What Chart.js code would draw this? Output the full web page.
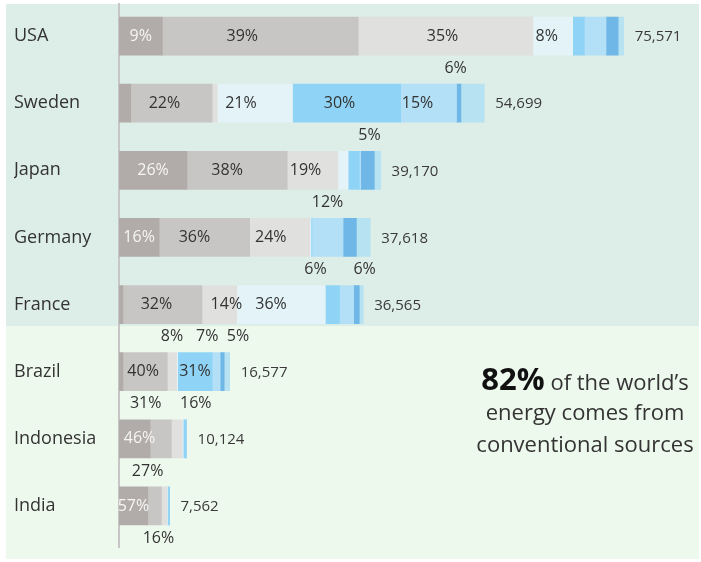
<!DOCTYPE html>
<html>
<head>
<meta charset="utf-8">
<script src="https://cdn.jsdelivr.net/npm/chart.js@4.4.1/dist/chart.umd.min.js"></script>
<style>
html, body { margin: 0; padding: 0; background: #fff; }
#wrap { width: 701px; height: 562px; }
</style>
</head>
<body>
<div id="wrap"><canvas id="energyChart"></canvas></div>
<script>
// ==========================================
// per-capita energy use and mix by source
// ==========================================

const countries = ["USA", "Sweden", "Japan", "Germany", "France", "Brazil", "Indonesia", "India"];
const totals = [75571, 54699, 39170, 37618, 36565, 16577, 10124, 7562];

// share of each source, percent of the country's total
const sources = ["Coal", "Oil", "Gas", "Nuclear", "Hydro", "Biofuels", "Wind", "Other"];
const coal    = [8.6,  3.2, 26.0, 16.0,  1.6,  3.6, 46.0, 57.0];
const oil     = [38.8, 22.3, 38.3, 36.0, 32.4, 40.0, 31.4, 27.0];
const gas     = [34.6,  1.4, 19.4, 24.0, 14.2,  8.4, 16.2, 11.0];
const nuclear = [7.9, 20.6,  3.9,  0.4, 36.3,  1.0,  1.4,  1.0];
const hydro   = [2.3, 29.6,  4.3,  0.4,  5.8, 31.2,  4.0,  4.0];
const bio     = [4.3, 15.3,  0.5, 12.4,  5.8,  7.2,  0.5,  0.0];
const wind    = [2.4,  1.2,  5.2,  5.3,  2.3,  3.6,  0.0,  0.0];
const other   = [1.1,  6.4,  2.4,  5.5,  1.6,  5.0,  0.5,  0.0];

const shares = [coal, oil, gas, nuclear, hydro, bio, wind, other];

// which segments get a percent label (index into sources, or [from, to] for a sum)
const insideLabels = [[0, 1, 2, 3], [1, 3, 4, 5], [0, 1, 2], [0, 1, 2], [1, 2, 3], [1, 4], [0], [0]];
const aboveLabels  = [[], [7], [6], [5], [4, 5], [2, 5, 7], [1, 2], [1]];
const belowLabels  = [[], [], [], [], [], [], [], [[2, 7]]];

const colors = ["#b1aca9", "#c8c6c4", "#e0e0de", "#e3f3f7", "#8fd4f6", "#b3e0f7", "#6fb7e6", "#b6e2f1"];

Chart.defaults.font.family = "'Open Sans', sans-serif";

// sideways nudges for the percent labels (row + a/b/i + position in list)
const nudge = {
    "0i1": -18, "0i2": -3, "0i3": -6,
    "1i0": -7, "1i1": -14, "1i2": -7, "1i3": -11,
    "2i1": -10, "2i2": -7,
    "3i1": -10, "3i2": -9,
    "4i0": -6, "4i1": 7, "4i2": -10,
    "5i0": -2, "6i0": 5,
    "1a0": -17, "2a0": 2, "4a0": -17, "4a1": 18, "5a1": -9, "5a2": 11,
    "6a0": -15, "6a1": 19, "7a0": -7, "7b0": -7
};

function shareOf(row, spec) {
    if (Array.isArray(spec)) {
        let s = 0;
        for (let d = spec[0]; d <= spec[1]; d++) s += shares[d][row];
        return s;
    }
    return shares[spec][row];
}

function spanOf(chart, row, spec) {
    const first = Array.isArray(spec) ? spec[0] : spec;
    const last = Array.isArray(spec) ? spec[1] : spec;
    const a = chart.getDatasetMeta(first).data[row];
    const b = chart.getDatasetMeta(last).data[row];
    return { start: a.base, end: b.x, y: a.y };
}

const panels = {
    id: "panels",
    beforeDraw(chart) {
        const c = chart.ctx;
        const y = chart.scales.y;
        const split = y.getPixelForValue(4.32);
        c.save();
        c.fillStyle = "#ffffff";
        c.fillRect(0, 0, chart.width, chart.height);
        c.fillStyle = "#ddede7";
        c.fillRect(6, 4, 693, split - 4);
        c.fillStyle = "#eef9ee";
        c.fillRect(6, split, 693, 559 - split);
        c.restore();
    },
    beforeDatasetsDraw(chart) {
        const c = chart.ctx;
        c.save();
        c.fillStyle = "#c6c6c6";
        c.fillRect(chart.chartArea.left - 1, 3, 2, 545);
        c.restore();
    }
};

const barLabels = {
    id: "barLabels",
    afterDatasetsDraw(chart) {
        const c = chart.ctx;
        c.save();
        c.textBaseline = "middle";
        c.textAlign = "center";
        c.font = "16px 'Open Sans'";

        countries.forEach((name, row) => {
            insideLabels[row].forEach((spec, k) => {
                const s = spanOf(chart, row, spec);
                const dx = nudge[row + "i" + k] || 0;
                c.fillStyle = spec === 0 ? "#f6f6f6" : "#333333";
                c.fillText(Math.round(shareOf(row, spec)) + "%", (s.start + s.end) / 2 + dx, s.y);
            });
            c.fillStyle = "#333333";
            aboveLabels[row].forEach((spec, k) => {
                const s = spanOf(chart, row, spec);
                const dx = nudge[row + "a" + k] || 0;
                c.fillText(Math.round(shareOf(row, spec)) + "%", (s.start + s.end) / 2 + dx, s.y - 35);
            });
            belowLabels[row].forEach((spec, k) => {
                const s = spanOf(chart, row, spec);
                const dx = nudge[row + "b" + k] || 0;
                c.fillText(Math.round(shareOf(row, spec)) + "%", (s.start + s.end) / 2 + dx, s.y + 32);
            });

            // total at the end of the bar
            const end = chart.getDatasetMeta(shares.length - 1).data[row];
            c.textAlign = "left";
            c.font = "15px 'Open Sans'";
            c.fillStyle = "#3a3a3a";
            c.fillText(totals[row].toLocaleString("en-US"), end.x + 11, end.y + 1);
            c.textAlign = "center";
            c.font = "16px 'Open Sans'";
        });
        c.restore();
    },
    afterDraw(chart) {
        // side note
        const c = chart.ctx;
        const cx = 585;
        c.save();
        c.textBaseline = "alphabetic";
        c.textAlign = "left";
        c.font = "bold 31px 'Open Sans'";
        const w1 = c.measureText("82%").width;
        c.font = "22px 'Open Sans'";
        const w2 = c.measureText(" of the world\u2019s").width;
        let x = cx - (w1 + w2) / 2;
        c.font = "bold 31px 'Open Sans'";
        c.fillStyle = "#111111";
        c.fillText("82%", x, 390);
        c.font = "22px 'Open Sans'";
        c.fillStyle = "#333333";
        c.fillText(" of the world\u2019s", x + w1, 390);
        c.textAlign = "center";
        c.fillText("energy comes from", cx, 420);
        c.fillText("conventional sources", cx, 452);
        c.restore();
    }
};

const ctx = document.getElementById("energyChart").getContext("2d");

new Chart(ctx, {
    type: "bar",
    data: {
        labels: countries,
        datasets: sources.map((src, d) => ({
            label: src,
            data: totals.map((t, i) => t * shares[d][i] / 100),
            backgroundColor: colors[d],
            borderWidth: 0,
            barThickness: 38
        }))
    },
    options: {
        indexAxis: "y",
        responsive: true,
        maintainAspectRatio: false,
        devicePixelRatio: 1,
        animation: false,
        layout: { padding: { left: 14, right: 1, top: 2.5, bottom: 22.5 } },
        plugins: {
            legend: { display: false },
            tooltip: { enabled: false }
        },
        scales: {
            x: {
                stacked: true,
                display: false,
                min: 0,
                max: 87000
            },
            y: {
                stacked: true,
                grid: { display: false },
                border: { display: false },
                afterFit(scale) {
                    scale.width = 105;
                    scale.paddingTop = 0;
                    scale.paddingBottom = 0;
                },
                ticks: {
                    crossAlign: "far",
                    color: "#333333",
                    font: { size: 18 }
                }
            }
        }
    },
    plugins: [panels, barLabels]
});
</script>
</body>
</html>
